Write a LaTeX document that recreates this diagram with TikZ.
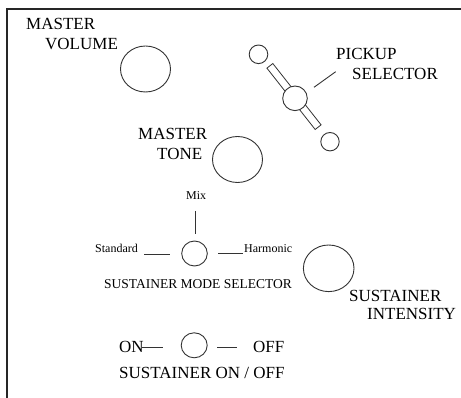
\documentclass[tikz,border=0pt]{standalone}
\usepackage{fontspec}
\setmainfont{Liberation Serif}
\usetikzlibrary{shapes.geometric}
\begin{document}
\begin{tikzpicture}[x=1pt,y=-1pt,
  knob/.style={draw=black!80, line width=0.9pt, ellipse, inner sep=0pt, fill=white},
  lbl/.style={inner sep=0pt, anchor=base west, font=\fontsize{17}{17}\selectfont},
  mid/.style={inner sep=0pt, anchor=base west, font=\fontsize{13.5}{13.5}\selectfont},
  small/.style={inner sep=0pt, anchor=base west, font=\fontsize{12}{12}\selectfont},
  tick/.style={draw=black!80, line width=0.9pt},
  frame/.style={draw=black!85, line width=2pt}]
\path[use as bounding box] (0,0) rectangle (461,398);
% frame (only top and left edges visible)
\coordinate (ftr) at (461,9);
\coordinate (ftl) at (7,9);
\coordinate (fbl) at (7,398);
\draw[frame] (ftr) -- (ftl) -- (fbl);

% master volume
\node[lbl] (mv1) at (26,30) {MASTER};
\node[lbl] (mv2) at (45,50) {VOLUME};
\node[knob, minimum width=50pt, minimum height=46pt] (vol) at (145.5,69) {};

% master tone
\node[lbl] (mt1) at (138,140) {MASTER};
\node[lbl] (mt2) at (157,160) {TONE};
\node[knob, minimum width=50pt, minimum height=46pt] (tone) at (237.5,159.5) {};

% pickup selector
\node[knob, minimum width=18.6pt, minimum height=18.6pt] (pu1) at (258.5,54.3) {};
\node[knob, minimum width=18.4pt, minimum height=18.4pt] (pu3) at (330,141.7) {};
\draw[tick, line width=0.8pt] (272.82,63.52) -- (266.92,68.16) -- (315.18,129.48) -- (321.08,124.84) -- cycle;
\node[knob, minimum width=24.6pt, minimum height=24.6pt] (pu2) at (295,98.3) {};
\node[lbl] (ps1) at (336,59.3) {PICKUP};
\node[lbl] (ps2) at (352,79.3) {SELECTOR};
\coordinate (psa) at (314,87.3);
\coordinate (psb) at (335.7,71.7);
\draw[tick] (psa) -- (psb);

% sustainer mode selector
\node[knob, minimum width=25.6pt, minimum height=25pt] (mode) at (194.5,253.5) {};
\node[small] (mix) at (186,200) {Mix};
\node[small] (std) at (95,252.5) {Standard};
\node[small] (harm) at (244,252.5) {Harmonic};
\coordinate (mixa) at (195,211);
\coordinate (mixb) at (195,234);
\coordinate (stda) at (144.3,254.3);
\coordinate (stdb) at (170,254.3);
\coordinate (hara) at (218.3,253.3);
\coordinate (harb) at (243.3,253.3);
\draw[tick] (mixa) -- (mixb);
\draw[tick] (stda) -- (stdb);
\draw[tick] (hara) -- (harb);
\node[mid] (msl) at (104,288.3) {SUSTAINER MODE SELECTOR};

% sustainer intensity
\node[knob, minimum width=50.6pt, minimum height=46.6pt] (int) at (328.7,268.3) {};
\node[lbl] (si1) at (349,301.7) {SUSTAINER};
\node[lbl] (si2) at (367,320) {INTENSITY};

% sustainer on/off
\node[knob, minimum width=26pt, minimum height=25pt] (onoff) at (194.2,345.3) {};
\node[lbl] (on) at (119,352.7) {ON};
\node[lbl] (off) at (253,352.7) {OFF};
\coordinate (ona) at (142.3,347);
\coordinate (onb) at (162.7,347);
\coordinate (offa) at (217.3,347);
\coordinate (offb) at (237.3,347);
\draw[tick] (ona) -- (onb);
\draw[tick] (offa) -- (offb);
\node[lbl] (sol) at (119,378.3) {SUSTAINER ON / OFF};
\end{tikzpicture}
\end{document}
